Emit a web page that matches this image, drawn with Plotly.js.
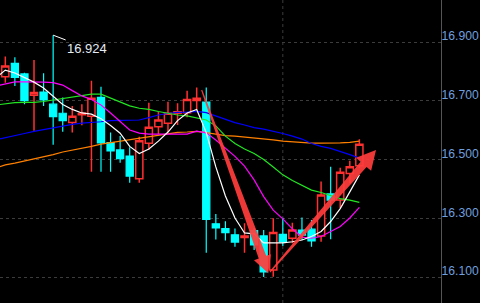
<!DOCTYPE html>
<html>
<head>
<meta charset="utf-8">
<script src="https://cdn.plot.ly/plotly-3.0.1.min.js"></script>
<style>
html,body{margin:0;padding:0;background:#000;}
#chart{width:480px;height:303px;}
</style>
</head>
<body>
<div id="chart"></div>
<script>
// ---- candle data (index 0..37) ----
const candleX = [0,1,2,3,4,5,6,7,8,9,10,11,12,13,14,15,16,17,18,19,20,21,22,23,24,25,26,27,28,29,30,31,32,33,34,35,36,37];
const openV  = [16.782,16.828,16.792,16.719,16.730,16.689,16.658,16.626,16.653,16.648,16.712,16.558,16.533,16.512,16.435,16.556,16.612,16.624,16.658,16.660,16.701,16.696,16.281,16.265,16.244,16.235,16.258,16.240,16.124,16.245,16.232,16.260,16.263,16.240,16.383,16.362,16.453,16.479];
const highV  = [16.851,16.849,16.796,16.839,16.794,16.924,16.712,16.683,16.689,16.769,16.748,16.592,16.580,16.542,16.578,16.694,16.663,16.697,16.692,16.735,16.746,16.746,16.315,16.290,16.265,16.283,16.267,16.260,16.300,16.302,16.285,16.303,16.294,16.425,16.476,16.472,16.496,16.569];
const lowV   = [16.762,16.751,16.689,16.598,16.683,16.551,16.595,16.592,16.617,16.459,16.459,16.459,16.489,16.421,16.421,16.533,16.587,16.592,16.618,16.644,16.671,16.183,16.228,16.224,16.203,16.183,16.192,16.100,16.101,16.206,16.215,16.226,16.203,16.220,16.229,16.334,16.419,16.471];
const closeV = [16.819,16.780,16.701,16.729,16.703,16.646,16.633,16.648,16.658,16.709,16.557,16.530,16.503,16.444,16.564,16.610,16.635,16.658,16.663,16.705,16.709,16.296,16.267,16.251,16.219,16.240,16.209,16.117,16.252,16.220,16.260,16.243,16.223,16.379,16.362,16.457,16.476,16.552];

// ---- moving averages (index -1..37) ----
const maX = [-1,0,1,2,3,4,5,6,7,8,9,10,11,12,13,14,15,16,17,18,19,20,21,22,23,24,25,26,27,28,29,30,31,32,33,34,35,36,37];
const maWhite   = [16.778,16.805,16.795,16.780,16.764,16.744,16.717,16.688,16.671,16.659,16.655,16.639,16.616,16.590,16.545,16.521,16.536,16.563,16.594,16.633,16.659,16.671,16.592,16.475,16.376,16.301,16.250,16.247,16.216,16.215,16.216,16.220,16.226,16.238,16.255,16.289,16.333,16.390,16.448];
const maMagenta = [16.751,16.758,16.765,16.765,16.765,16.764,16.762,16.754,16.735,16.717,16.705,16.686,16.659,16.630,16.601,16.590,16.587,16.587,16.587,16.587,16.587,16.597,16.591,16.567,16.540,16.511,16.478,16.431,16.374,16.328,16.298,16.264,16.236,16.232,16.238,16.255,16.272,16.301,16.337];
const maGreen   = [16.686,16.691,16.694,16.695,16.695,16.698,16.703,16.706,16.712,16.717,16.723,16.723,16.710,16.697,16.683,16.675,16.671,16.664,16.657,16.652,16.649,16.643,16.635,16.615,16.580,16.555,16.536,16.521,16.500,16.475,16.448,16.429,16.412,16.396,16.388,16.378,16.367,16.362,16.354];
const maBlue    = [16.567,16.575,16.583,16.589,16.596,16.602,16.608,16.615,16.620,16.624,16.626,16.629,16.633,16.634,16.634,16.635,16.643,16.652,16.657,16.661,16.662,16.664,16.660,16.649,16.638,16.626,16.618,16.609,16.604,16.597,16.589,16.580,16.570,16.555,16.545,16.538,16.528,16.517,16.505];
const maOrange  = [16.471,16.482,16.488,16.495,16.504,16.511,16.517,16.526,16.532,16.539,16.545,16.553,16.558,16.563,16.567,16.572,16.577,16.584,16.587,16.593,16.594,16.596,16.592,16.587,16.582,16.580,16.577,16.575,16.572,16.567,16.563,16.560,16.557,16.556,16.556,16.556,16.557,16.559,16.563];

// ---- axis ticks ----
const tickVals = [16.1,16.3,16.5,16.7,16.9];
const tickText = ["16.100","16.300","16.500","16.700","16.900"];

// ---- markers / arrows (data coordinates) ----
const highIdx = 5, highVal = 16.924, highLabel = "16.924";
const dividerIdx = 29;
const arrowDown = {from:[20.52,16.737], to:[27.48,16.113]};
const arrowUp   = {from:[27.66,16.117], to:[38.74,16.533]};

const xRange = [-0.554, 45.53];
const yRange = [16.0114, 17.0438];
const W = 480, H = 303, mR = 39;
const plotW = W - mR, plotH = H;

function toPx(p){
  return [(p[0]-xRange[0])/(xRange[1]-xRange[0])*plotW,
          (yRange[1]-p[1])/(yRange[1]-yRange[0])*plotH];
}
function arrowPath(a, tailW, shaftW, headW, headL){
  const p0 = toPx(a.from), p1 = toPx(a.to);
  const dx = p1[0]-p0[0], dy = p1[1]-p0[1];
  const L = Math.hypot(dx,dy), ux = dx/L, uy = dy/L, nx = -uy, ny = ux;
  const bx = p1[0]-ux*headL, by = p1[1]-uy*headL;
  const pts = [
    [p0[0]+nx*tailW/2, p0[1]+ny*tailW/2],
    [bx+nx*shaftW/2, by+ny*shaftW/2],
    [bx+nx*headW/2, by+ny*headW/2],
    [p1[0], p1[1]],
    [bx-nx*headW/2, by-ny*headW/2],
    [bx-nx*shaftW/2, by-ny*shaftW/2],
    [p0[0]-nx*tailW/2, p0[1]-ny*tailW/2]
  ];
  return 'M' + pts.map(p => (p[0]/plotW).toFixed(5)+','+(1-p[1]/plotH).toFixed(5)).join(' L') + ' Z';
}

const traces = [
  {
    type:'candlestick', x:candleX, open:openV, high:highV, low:lowV, close:closeV,
    increasing:{line:{color:'#ff3030', width:1.5}, fillcolor:'#000000'},
    decreasing:{line:{color:'#00ffff', width:1.2}, fillcolor:'#00ffff'},
    whiskerwidth:0, hoverinfo:'skip', showlegend:false
  },
  {type:'scatter', mode:'lines', x:maX, y:maOrange,  line:{color:'#ff8000', width:1.2}, hoverinfo:'skip', showlegend:false},
  {type:'scatter', mode:'lines', x:maX, y:maBlue,    line:{color:'#0000ff', width:1.2}, hoverinfo:'skip', showlegend:false},
  {type:'scatter', mode:'lines', x:maX, y:maGreen,   line:{color:'#22e622', width:1.2}, hoverinfo:'skip', showlegend:false},
  {type:'scatter', mode:'lines', x:maX, y:maMagenta, line:{color:'#ff00ff', width:1.2}, hoverinfo:'skip', showlegend:false},
  {type:'scatter', mode:'lines', x:maX, y:maWhite,   line:{color:'#ffffff', width:1.2}, hoverinfo:'skip', showlegend:false}
];

const layout = {
  width:W, height:H,
  margin:{l:0, r:mR, t:0, b:0, pad:0},
  paper_bgcolor:'#000000', plot_bgcolor:'#000000',
  showlegend:false,
  boxgap:0.25, boxgroupgap:0,
  xaxis:{range:xRange, showgrid:false, zeroline:false, showticklabels:false, ticks:'', showline:false, rangeslider:{visible:false}, fixedrange:true},
  yaxis:{range:yRange, side:'right', tickvals:tickVals, ticktext:tickText,
         showgrid:true, gridcolor:'#3c3c3c', griddash:'dot', gridwidth:1,
         zeroline:false, showline:true, linecolor:'#555555', linewidth:1, ticks:'', ticklen:0,
         tickfont:{family:'Liberation Sans, Arial, sans-serif', size:12.2, color:'#6f9fdf'},
         ticklabelshift:-6, ticklabelstandoff:-3, fixedrange:true},
  shapes:[
    {type:'line', xref:'x', yref:'paper', x0:dividerIdx, x1:dividerIdx, y0:0, y1:1, line:{color:'#3c3c3c', width:1, dash:'dot'}, layer:'below'},
    {type:'path', xref:'paper', yref:'paper', path:arrowPath(arrowDown,1.2,8,18,17), fillcolor:'rgba(255,60,60,0.93)', line:{width:0}, layer:'above'},
    {type:'path', xref:'paper', yref:'paper', path:arrowPath(arrowUp,1.2,8,20,19), fillcolor:'rgba(255,60,60,0.93)', line:{width:0}, layer:'above'}
  ],
  annotations:[
    {x:highIdx, y:highVal, xref:'x', yref:'y', text:highLabel, showarrow:true, arrowhead:0, arrowwidth:1, arrowcolor:'#ffffff',
     ax:34, ay:13, font:{family:'Liberation Sans, Arial, sans-serif', size:13, color:'#e4ecf4'}}
  ]
};

Plotly.newPlot('chart', traces, layout, {displayModeBar:false, staticPlot:true});
</script>
</body>
</html>
